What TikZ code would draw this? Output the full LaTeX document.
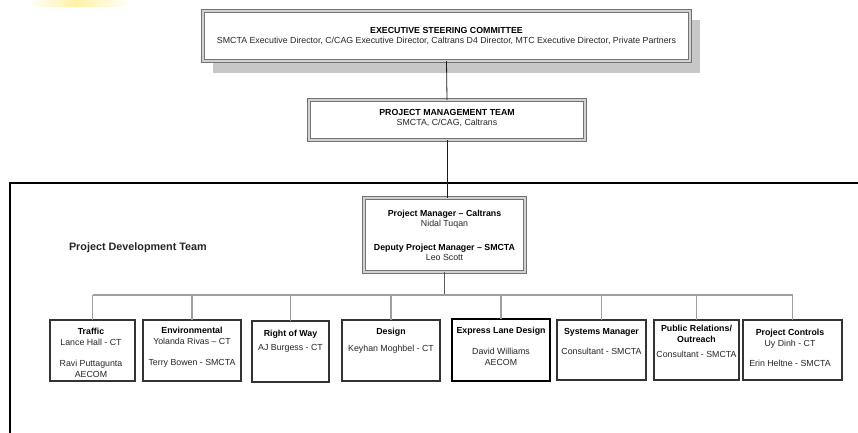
\documentclass[tikz,border=0pt]{standalone}
\usepackage{fontspec}
\setmainfont{Liberation Sans}
\begin{document}
\begin{tikzpicture}[x=1pt,y=-1pt,
  every node/.style={inner sep=0pt, outer sep=0pt},
  dbox/.style={draw=black!55, double=black!18, double distance=1.5pt, line width=1pt, fill=white},
  tbox/.style={draw=black!80, line width=1.4pt, fill=white},
  txt/.style={font=\fontsize{8.8}{11}\selectfont, align=center, anchor=north, text=black!85},
  conn/.style={line width=0.8pt, draw=black!90},
  pmline/.style={line width=0.9pt, draw=black!65},
  busline/.style={line width=1.1pt, draw=black!38},
]
\useasboundingbox (0,0) rectangle (858,432);
% faint glow at top left
\shade[left color=white, right color=yellow!70!orange!35] (28,0) rectangle (75,6);
\shade[left color=yellow!70!orange!35, right color=white] (75,0) rectangle (132,6);

% Executive steering committee
\fill[black!22] (213,20) rectangle (700,73);
\node[dbox, minimum width=487pt, minimum height=50pt] (esc) at (446.5,36) {};
\node[txt, font=\fontsize{8.8}{9.6}\selectfont] (esct) at (446.5,27.6)
  {\textbf{\color{black}EXECUTIVE STEERING COMMITTEE}\\SMCTA Executive Director, C/CAG Executive Director, Caltrans D4 Director, MTC Executive Director, Private Partners};

% Project management team
\node[dbox, minimum width=276pt, minimum height=40pt] (pmt) at (447,120) {};
\node[txt, font=\fontsize{8.8}{10}\selectfont] (pmtt) at (447,109.8)
  {\textbf{\color{black}PROJECT MANAGEMENT TEAM}\\SMCTA, C/CAG, Caltrans};

% Project development team frame
\draw[line width=1.6pt] (10,434) -- (10,183) -- (860,183);
\node[anchor=base west, font=\bfseries\fontsize{10.8}{13}\selectfont, text=black!85] (pdt) at (69,250) {Project Development Team};

% Project manager
\node[dbox, minimum width=161pt, minimum height=74pt] (pm) at (444.5,235) {};
\node[txt, font=\fontsize{8.8}{10}\selectfont] (pmtx) at (444.5,209.7)
  {\textbf{\color{black}Project Manager -- Caltrans}\\Nidal Tuqan\\[14pt]\textbf{\color{black}Deputy Project Manager -- SMCTA}\\Leo Scott};

% team boxes
\node[tbox, minimum width=85pt, minimum height=61pt] (b1) at (92.5,350.5) {};
\node[tbox, minimum width=98pt, minimum height=61pt] (b2) at (192,350.5) {};
\node[tbox, minimum width=77pt, minimum height=61pt] (b3) at (290.5,351.5) {};
\node[tbox, minimum width=98pt, minimum height=61pt] (b4) at (391,350.5) {};
\node[tbox, draw=black, line width=2pt, minimum width=98pt, minimum height=62pt] (b5) at (501,350) {};
\node[tbox, minimum width=89pt, minimum height=60pt] (b6) at (601.5,350) {};
\node[tbox, minimum width=85pt, minimum height=60pt] (b7) at (696.5,350) {};
\node[tbox, minimum width=99pt, minimum height=60pt] (b8) at (792.5,350) {};

\node[txt] (t1) at (91,327.7) {\textbf{\color{black}Traffic}\\Lance Hall - CT\\[10pt]Ravi Puttagunta\\AECOM};
\node[txt] (t2) at (192,326.7) {\textbf{\color{black}Environmental}\\Yolanda Rivas -- CT\\[10pt]Terry Bowen - SMCTA};
\node[txt] (t3) at (290.5,329.7) {\textbf{\color{black}Right of Way}\\[3pt]AJ Burgess - CT};
\node[txt] (t4) at (391,327.7) {\textbf{\color{black}Design}\\[6pt]Keyhan Moghbel - CT};
\node[txt] (t5) at (501,326.7) {\textbf{\color{black}Express Lane Design}\\[10pt]David Williams\\AECOM};
\node[txt] (t6) at (601.5,328.7) {\textbf{\color{black}Systems Manager}\\[9pt]Consultant - SMCTA};
\node[txt] (t7) at (696.5,324.7) {\textbf{\color{black}Public Relations/}\\\textbf{\color{black}Outreach}\\[4pt]Consultant - SMCTA};
\node[txt] (t8) at (790,328.7) {\textbf{\color{black}Project Controls}\\Uy Dinh - CT\\[9pt]Erin Heltne - SMCTA};

% connectors
\coordinate (bus) at (0,295);
\draw[conn] (esc.south) -- (pmt.north);
\draw[conn] (pmt.south) -- (pmt.south |- pm.north);
\draw[pmline] (pm.south) -- (pm.south |- bus);
\draw[busline] (b1.north |- bus) -- (b8.north |- bus);
\foreach \b in {b1,b2,b3,b4,b5,b6,b7,b8}
  \draw[busline] (\b.north |- bus) -- (\b.north);
\end{tikzpicture}
\end{document}
